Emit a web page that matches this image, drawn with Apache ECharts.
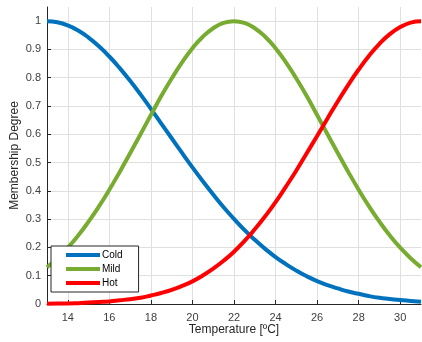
<!DOCTYPE html>
<html>
<head>
<meta charset="utf-8">
<script src="https://cdn.jsdelivr.net/npm/echarts@6/dist/echarts.min.js"></script>
<style>
  html, body { margin: 0; padding: 0; background: #fff; }
  #chart { width: 422px; height: 342px; }
</style>
</head>
<body>
<div id="chart"></div>
<script>
// temperature samples (degC)
var temps = [13, 13.5, 14, 14.5, 15, 15.5, 16, 16.5, 17, 17.5, 18, 18.5, 19, 19.5, 20, 20.5, 21, 21.5,
             22, 22.5, 23, 23.5, 24, 24.5, 25, 25.5, 26, 26.5, 27, 27.5, 28, 28.5, 29, 29.5, 30, 30.5, 31];
var cold = [1, 0.996, 0.985, 0.967, 0.942, 0.911, 0.875, 0.834, 0.789, 0.741, 0.690, 0.638, 0.586, 0.534,
            0.483, 0.434, 0.387, 0.342, 0.301, 0.262, 0.227, 0.195, 0.166, 0.141, 0.118, 0.098, 0.081,
            0.067, 0.055, 0.044, 0.036, 0.028, 0.022, 0.018, 0.014, 0.011, 0.008];
var mild = [0.130, 0.162, 0.199, 0.242, 0.291, 0.345, 0.404, 0.467, 0.533, 0.600, 0.668, 0.735, 0.797,
            0.854, 0.904, 0.945, 0.975, 0.994, 1, 0.994, 0.975, 0.945, 0.904, 0.854, 0.797, 0.735, 0.668,
            0.600, 0.533, 0.467, 0.404, 0.345, 0.291, 0.242, 0.199, 0.162, 0.130];
var hot = [0.001, 0.002, 0.002, 0.003, 0.005, 0.007, 0.009, 0.013, 0.017, 0.022, 0.030, 0.039, 0.050,
           0.064, 0.080, 0.101, 0.125, 0.153, 0.185, 0.222, 0.264, 0.310, 0.360, 0.415, 0.472, 0.533,
           0.594, 0.656, 0.717, 0.775, 0.829, 0.878, 0.920, 0.954, 0.979, 0.995, 1];
var xTicks = [14, 16, 18, 20, 22, 24, 26, 28, 30];

function pairs(ys) {
    return temps.map(function (t, i) { return [t, ys[i]]; });
}

var myChart = echarts.init(document.getElementById('chart'));
var font = 'Liberation Sans, Arial, sans-serif';
var option = {
    animation: false,
    color: ['#0072BD', '#77AC30', '#FF0000'],
    grid: { left: 47, right: 1, top: 7, bottom: 38, outerBoundsMode: 'none' },
    legend: {
        orient: 'vertical',
        left: 51,
        top: 246,
        padding: [2, 16, 2, 15],
        itemGap: 0,
        itemWidth: 34,
        itemHeight: 4,
        icon: 'rect',
        backgroundColor: '#fff',
        borderColor: '#262626',
        borderWidth: 1,
        borderRadius: 0,
        textStyle: { fontFamily: font, fontSize: 10, color: '#000', lineHeight: 14, padding: [0, 0, 0, -3] },
        data: ['Cold', 'Mild', 'Hot']
    },
    xAxis: {
        type: 'value',
        min: 13,
        max: 31,
        name: 'Temperature [ºC]',
        nameLocation: 'middle',
        nameGap: 20,
        nameMoveOverlap: false,
        nameTextStyle: { fontFamily: font, fontSize: 12, color: '#262626' },
        axisLine: { lineStyle: { color: '#262626', width: 1 } },
        axisTick: { inside: true, length: 4, customValues: xTicks, lineStyle: { color: '#262626' } },
        axisLabel: { customValues: xTicks, margin: 8, fontFamily: font, fontSize: 11, color: '#404040' },
        splitLine: { show: true, lineStyle: { color: '#e0e0e0' } }
    },
    yAxis: {
        type: 'value',
        min: 0,
        max: 1.05,
        interval: 0.1,
        name: 'Membership Degree',
        nameLocation: 'middle',
        nameGap: 26,
        nameMoveOverlap: false,
        nameTextStyle: { fontFamily: font, fontSize: 12, color: '#262626' },
        axisLine: { show: true, lineStyle: { color: '#262626', width: 1 } },
        axisTick: { show: true, inside: true, length: 4, lineStyle: { color: '#262626' } },
        axisLabel: { showMaxLabel: false, margin: 6, fontFamily: font, fontSize: 11, color: '#404040' },
        splitLine: { show: true, showMaxLine: false, lineStyle: { color: '#e0e0e0' } }
    },
    series: [
        { name: 'Cold', type: 'line', data: pairs(cold), smooth: true, showSymbol: false, lineStyle: { width: 4 } },
        { name: 'Mild', type: 'line', data: pairs(mild), smooth: true, showSymbol: false, lineStyle: { width: 4 } },
        { name: 'Hot', type: 'line', data: pairs(hot), smooth: true, showSymbol: false, lineStyle: { width: 4 } }
    ]
};
myChart.setOption(option);
window.addEventListener('resize', function () {
    myChart.resize();
});
</script>
</body>
</html>
